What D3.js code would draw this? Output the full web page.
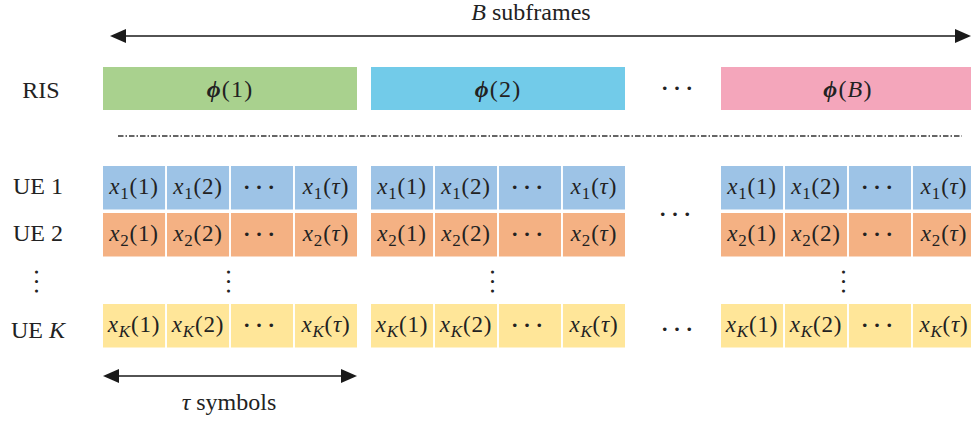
<!DOCTYPE html>
<html><head><meta charset="utf-8">
<script src="https://cdn.jsdelivr.net/npm/d3@7"></script>
<style>body{margin:0;background:#fff}svg{display:block}</style>
</head><body><svg id="c" width="971" height="421"></svg>
<script>
// ---- data ----
const subframes = ["1", "2", "B"];
const subframeColors = ["#a9d18e", "#72cbe9", "#f4a6bb"];
const users = ["1", "2", "K"];
const userColors = ["#9dc3e6", "#f4b183", "#ffe699"];
const symbols = ["1", "2", "⋯", "τ"];
const rowLabels = ["RIS", "UE 1", "UE 2", "UE K"];
const topLabel = "B subframes";
const bottomLabel = "τ symbols";

// ---- layout ----
const svg = d3.select("#c");
const serif = "'Liberation Serif', 'Times New Roman', serif";
const mathFont = "'Liberation Serif', 'DejaVu Serif', serif";
const sfX = d3.scaleOrdinal().domain(subframes).range([103, 371, 721]);
const sfW = 254;
const symX = d3.scaleBand().domain(symbols).range([0, sfW]).paddingInner(0.03);
const rowY = d3.scaleOrdinal().domain(users).range([166, 213, 304]);
const rowH = 43.5;
const risY = 67, risH = 43;
const ink = "#222";

function arrow(x1, x2, y) {
  svg.append("line").attr("x1", x1 + 4).attr("x2", x2 - 4).attr("y1", y).attr("y2", y)
    .attr("stroke", "#1a1a1a").attr("stroke-width", 1.6);
  const L = 16, H = 7;
  svg.append("path").attr("d", `M${x1},${y} L${x1 + L},${y - H} L${x1 + L},${y + H} Z`).attr("fill", "#1a1a1a");
  svg.append("path").attr("d", `M${x2},${y} L${x2 - L},${y - H} L${x2 - L},${y + H} Z`).attr("fill", "#1a1a1a");
}
// horizontal ellipsis centred at (cx, cy)
function hdots(cx, cy) {
  const ls = 2.2;
  svg.append("text").attr("x", cx + ls / 2).attr("y", cy + 7.5).attr("text-anchor", "middle")
    .attr("font-family", serif).attr("font-size", 30).attr("letter-spacing", ls)
    .attr("fill", ink).text("···");
}
// vertical ellipsis centred at (cx, cy)
function vdots(cx, cy) {
  const ls = 0.8;
  svg.append("text").attr("transform", `translate(${cx},${cy}) rotate(90)`)
    .attr("x", ls / 2).attr("y", 6.5).attr("text-anchor", "middle")
    .attr("font-family", serif).attr("font-size", 26).attr("letter-spacing", ls)
    .attr("fill", ink).text("···");
}

// top arrow + label
arrow(110, 971, 36);
const tl = svg.append("text").attr("x", 531).attr("y", 20).attr("text-anchor", "middle")
  .attr("font-family", serif).attr("font-size", 24).attr("fill", ink);
tl.append("tspan").attr("font-style", "italic").text(topLabel.split(" ")[0]);
tl.append("tspan").text(" " + topLabel.split(" ")[1]);

// row labels
const labY = [98, 194, 241, 338];
rowLabels.forEach((l, i) => {
  const t = svg.append("text").attr("x", i === 0 ? 41 : 38).attr("y", labY[i]).attr("text-anchor", "middle")
    .attr("font-family", serif).attr("font-size", 24).attr("fill", ink);
  if (l.endsWith("K")) {
    t.append("tspan").text("UE ");
    t.append("tspan").attr("font-style", "italic").text("K");
  } else t.text(l);
});

// RIS blocks
subframes.forEach((s, i) => {
  svg.append("rect").attr("x", sfX(s)).attr("y", risY).attr("width", sfW).attr("height", risH)
    .attr("fill", subframeColors[i]);
  const t = svg.append("text").attr("x", sfX(s) + sfW / 2).attr("y", risY + 30)
    .attr("text-anchor", "middle").attr("font-family", mathFont).attr("font-size", 24)
    .attr("letter-spacing", 1.2).attr("fill", ink);
  t.append("tspan").attr("font-weight", "bold").attr("font-style", "italic").text("ϕ");
  t.append("tspan").text("(");
  t.append("tspan").attr("font-style", s === "B" ? "italic" : "normal").text(s);
  t.append("tspan").text(")");
});
hdots(677, 90);

// dash-dot separator
svg.append("line").attr("x1", 118).attr("x2", 962).attr("y1", 136).attr("y2", 136)
  .attr("stroke", "#333").attr("stroke-width", 1.5).attr("stroke-dasharray", "5.5,2,1.5,2");

// UE cells
users.forEach((u, ui) => {
  subframes.forEach(s => {
    symbols.forEach(sym => {
      const x = sfX(s) + symX(sym);
      const cx = x + symX.bandwidth() / 2;
      svg.append("rect").attr("x", x).attr("y", rowY(u)).attr("width", symX.bandwidth()).attr("height", rowH)
        .attr("fill", userColors[ui]);
      if (sym === "⋯") { hdots(cx - 3, rowY(u) + 23); return; }
      const t = svg.append("text").attr("x", cx).attr("y", rowY(u) + 28)
        .attr("text-anchor", "middle").attr("font-family", mathFont).attr("font-size", 23)
        .attr("letter-spacing", 0.8).attr("fill", ink);
      t.append("tspan").attr("font-style", "italic").text("x");
      t.append("tspan").attr("font-size", 17).attr("dy", 5)
        .attr("font-style", u === "K" ? "italic" : "normal").text(u);
      t.append("tspan").attr("dy", -5).text("(");
      t.append("tspan").attr("font-style", sym === "τ" ? "italic" : "normal").text(sym);
      t.append("tspan").text(")");
    });
  });
});

// horizontal ellipses between subframes in UE rows
hdots(675, 216);
hdots(677, 331);
// vertical ellipses
[34, 226, 490, 841].forEach(x => vdots(x, 281.5));

// bottom arrow + label
arrow(103, 357, 376);
const bl = svg.append("text").attr("x", 229).attr("y", 410).attr("text-anchor", "middle")
  .attr("font-family", serif).attr("font-size", 24).attr("fill", ink);
bl.append("tspan").attr("font-style", "italic").text(bottomLabel.split(" ")[0]);
bl.append("tspan").text(" " + bottomLabel.split(" ")[1]);
</script></body></html>
